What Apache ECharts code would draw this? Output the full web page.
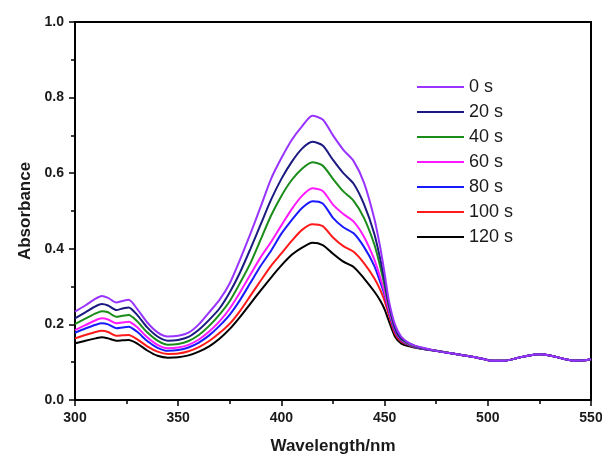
<!DOCTYPE html>
<html>
<head>
<meta charset="utf-8">
<script src="https://cdn.jsdelivr.net/npm/echarts@6/dist/echarts.min.js"></script>
<style>
html,body{margin:0;padding:0;background:#fff;}
#chart{width:602px;height:457px;}
</style>
</head>
<body>
<div id="chart"></div>
<script>
var wavelengths = [300,305,310,313,316,320,323,326,330,335,340,345,350,355,360,365,370,375,380,385,390,395,400,405,410,415,420,425,430,435,440,445,448,450,452,455,458,462,467,475,485,495,502,508,515,520,525,530,536,542,547,550];

var tail = [0.130,0.121,0.112,0.104,0.104,0.112,0.118,0.121,0.118,0.110,0.104,0.105,0.108];

var abs0s = [0.234,0.250,0.268,0.275,0.270, 0.258,0.262,0.265,0.242,0.205, 0.179,0.168,0.170,0.178,0.200, 0.232,0.265,0.309,0.372,0.440, 0.512,0.585,0.640,0.688,0.724, 0.752,0.742,0.700,0.662,0.632, 0.575,0.480,0.400,0.335,0.265, 0.200,0.168,0.150,0.140].concat(tail);
var abs20s = [0.216,0.232,0.248,0.254,0.250, 0.238,0.242,0.245,0.226,0.192, 0.168,0.157,0.159,0.167,0.186, 0.212,0.242,0.285,0.338,0.400, 0.465,0.530,0.585,0.630,0.665, 0.683,0.673,0.635,0.600,0.572, 0.518,0.440,0.370,0.315,0.255, 0.192,0.163,0.150,0.139].concat(tail);
var abs40s = [0.201,0.215,0.229,0.235,0.232, 0.220,0.223,0.225,0.209,0.179, 0.157,0.146,0.148,0.156,0.172, 0.196,0.226,0.262,0.310,0.362, 0.425,0.488,0.540,0.582,0.612, 0.629,0.620,0.585,0.552,0.527, 0.482,0.412,0.350,0.303,0.250, 0.190,0.162,0.148,0.138].concat(tail);
var abs60s = [0.185,0.198,0.211,0.216,0.213, 0.203,0.205,0.207,0.193,0.166, 0.146,0.137,0.139,0.146,0.160, 0.181,0.208,0.242,0.285,0.332, 0.378,0.418,0.462,0.505,0.540, 0.560,0.553,0.517,0.492,0.472, 0.432,0.372,0.322,0.285,0.240, 0.186,0.160,0.147,0.138].concat(tail);
var abs80s = [0.178,0.189,0.199,0.203,0.200, 0.190,0.192,0.194,0.181,0.156, 0.138,0.130,0.132,0.139,0.152, 0.171,0.196,0.226,0.265,0.310, 0.355,0.395,0.440,0.476,0.508, 0.526,0.520,0.482,0.457,0.441, 0.405,0.355,0.310,0.278,0.235, 0.182,0.158,0.146,0.137].concat(tail);
var abs100s = [0.163,0.172,0.180,0.183,0.180, 0.170,0.171,0.172,0.161,0.142, 0.128,0.122,0.123,0.129,0.140, 0.156,0.177,0.202,0.236,0.276, 0.316,0.355,0.388,0.421,0.450, 0.465,0.460,0.430,0.407,0.392, 0.362,0.322,0.290,0.262,0.226, 0.176,0.155,0.145,0.137].concat(tail);
var abs120s = [0.150,0.157,0.163,0.166,0.163, 0.157,0.158,0.159,0.150,0.131, 0.117,0.112,0.113,0.118,0.128, 0.142,0.162,0.188,0.220,0.255, 0.290,0.324,0.356,0.384,0.403, 0.416,0.410,0.387,0.366,0.352, 0.322,0.287,0.262,0.240,0.210, 0.168,0.150,0.142,0.136].concat(tail);

var seriesNames = ['0 s','20 s','40 s','60 s','80 s','100 s','120 s'];
var seriesValues = [abs0s, abs20s, abs40s, abs60s, abs80s, abs100s, abs120s];
var seriesColors = ['#9933ff','#1a1a80','#1a8c1a','#ff1aff','#1a1aff','#ff1a1a','#000000'];

var xTicks = [300,350,400,450,500,550];
var yTicks = [0.0,0.2,0.4,0.6,0.8,1.0];

var chart = echarts.init(document.getElementById('chart'), null, {renderer:'canvas'});

var series = seriesNames.map(function(name, i){
  return {
    name: name,
    type: 'line',
    data: wavelengths.map(function(w, j){ return [w, seriesValues[i][j]]; }),
    showSymbol: false,
    symbol: 'none',
    smooth: 0.25,
    z: 2 + (seriesNames.length - i),
    lineStyle: { width: 2, color: seriesColors[i] },
    itemStyle: { color: seriesColors[i] }
  };
});

var labelFont = { fontFamily: 'Liberation Sans, Arial, sans-serif', fontWeight: 'bold', fontSize: 14, color: '#1a1a1a' };

chart.setOption({
  animation: false,
  backgroundColor: '#ffffff',
  grid: { left: 75, right: 11, top: 22, bottom: 57, outerBoundsMode: 'none', containLabel: false, show: true, borderColor: '#000', borderWidth: 2, backgroundColor: 'transparent' },
  legend: {
    orient: 'vertical',
    left: 412,
    top: 73,
    itemWidth: 47,
    itemHeight: 2,
    itemGap: 7,
    icon: 'rect',
    data: seriesNames,
    textStyle: { fontFamily: 'Liberation Sans, Arial, sans-serif', fontSize: 18, lineHeight: 18, color: '#1a1a1a' }
  },
  xAxis: {
    type: 'value',
    min: xTicks[0],
    max: xTicks[xTicks.length-1],
    interval: 50,
    name: 'Wavelength/nm',
    nameLocation: 'middle',
    nameGap: 38,
    nameTextStyle: { fontFamily: 'Liberation Sans, Arial, sans-serif', fontWeight: 'bold', fontSize: 17, color: '#1a1a1a' },
    axisLine: { show: true, lineStyle: { color: '#000', width: 2 } },
    axisTick: { show: true, inside: false, length: 6, lineStyle: { color: '#000', width: 1.5 } },
    minorTick: { show: true, splitNumber: 2, length: 4, lineStyle: { color: '#000', width: 1.5 } },
    splitLine: { show: false },
    axisLabel: Object.assign({ margin: 11 }, labelFont)
  },
  yAxis: {
    type: 'value',
    min: yTicks[0],
    max: yTicks[yTicks.length-1],
    interval: 0.2,
    name: 'Absorbance',
    nameLocation: 'middle',
    nameGap: 40,
    nameTextStyle: { fontFamily: 'Liberation Sans, Arial, sans-serif', fontWeight: 'bold', fontSize: 17, color: '#1a1a1a' },
    axisLine: { show: true, lineStyle: { color: '#000', width: 2 } },
    axisTick: { show: true, inside: false, length: 6, lineStyle: { color: '#000', width: 1.5 } },
    minorTick: { show: true, splitNumber: 2, length: 4, lineStyle: { color: '#000', width: 1.5 } },
    splitLine: { show: false },
    axisLabel: Object.assign({ margin: 11, formatter: function(v){ return v.toFixed(1); } }, labelFont)
  },
  series: series
});
</script>
</body>
</html>
